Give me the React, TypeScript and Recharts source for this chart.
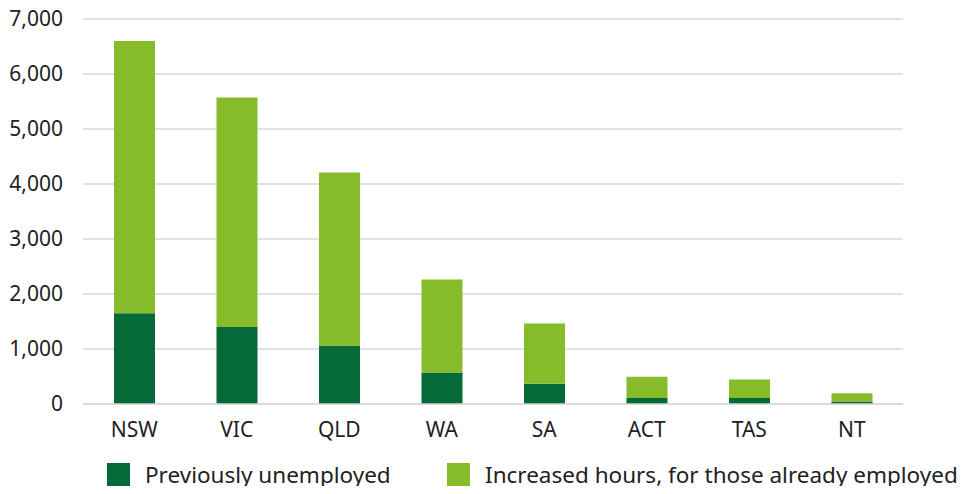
import { BarChart, Bar, XAxis, YAxis, CartesianGrid, Legend } from "recharts";

const STATES = ["NSW", "VIC", "QLD", "WA", "SA", "ACT", "TAS", "NT"];
const PREVIOUSLY_UNEMPLOYED = [1650, 1400, 1065, 575, 370, 110, 110, 45];
const INCREASED_HOURS = [4950, 4175, 3145, 1690, 1095, 385, 335, 150];
const Y_TICKS = [0, 1000, 2000, 3000, 4000, 5000, 6000, 7000];

const DARK = "#066a38";
const LIGHT = "#86bc29";
const FONT = "'Noto Sans', sans-serif";

const data = STATES.map((s, i) => ({
  state: s,
  unemployed: PREVIOUSLY_UNEMPLOYED[i],
  increased: INCREASED_HOURS[i],
}));

const SERIES = [
  { key: "unemployed", name: "Previously unemployed", color: DARK },
  { key: "increased", name: "Increased hours, for those already employed", color: LIGHT },
];

function LegendBox() {
  return (
    <div style={{ position: "relative", width: 969, height: 40, fontFamily: FONT, fontSize: 22.5, color: "#222" }}>
      {SERIES.map((s, i) => (
        <div
          key={s.key}
          style={{
            position: "absolute",
            left: i === 0 ? 107 : 447,
            top: 5,
            display: "flex",
            alignItems: "center",
            whiteSpace: "nowrap",
          }}
        >
          <span style={{ width: 23, height: 23, background: s.color, display: "inline-block", marginRight: 15 }} />
          <span>{s.name}</span>
        </div>
      ))}
    </div>
  );
}

export default function App() {
  return (
    <div style={{ margin: -8, width: 969, height: 494, background: "#fff" }}>
      <BarChart width={969} height={494} data={data} margin={{ top: 19, right: 66, left: 0, bottom: 0 }} barSize={41}>
        <CartesianGrid vertical={false} stroke="#d9d9d9" strokeWidth={1.5} />
        <XAxis
          dataKey="state"
          axisLine={{ stroke: "#d9d9d9", strokeWidth: 1.5 }}
          tickLine={false}
          tickSize={0}
          tickMargin={18}
          height={50}
          tick={{ fill: "#222", fontSize: 21, fontFamily: FONT }}
        />
        <YAxis
          width={83}
          domain={[0, 7000]}
          ticks={Y_TICKS}
          axisLine={false}
          tickLine={false}
          tickSize={0}
          tickMargin={20}
          tickFormatter={(v: number) => v.toLocaleString("en-US")}
          tick={{ fill: "#222", fontSize: 21, fontFamily: FONT }}
        />
        <Legend
          verticalAlign="bottom"
          height={40}
          wrapperStyle={{ left: 0, width: 969 }}
          content={() => <LegendBox />}
        />
        {SERIES.map((s) => (
          <Bar key={s.key} dataKey={s.key} name={s.name} stackId="a" fill={s.color} isAnimationActive={false} />
        ))}
      </BarChart>
    </div>
  );
}
